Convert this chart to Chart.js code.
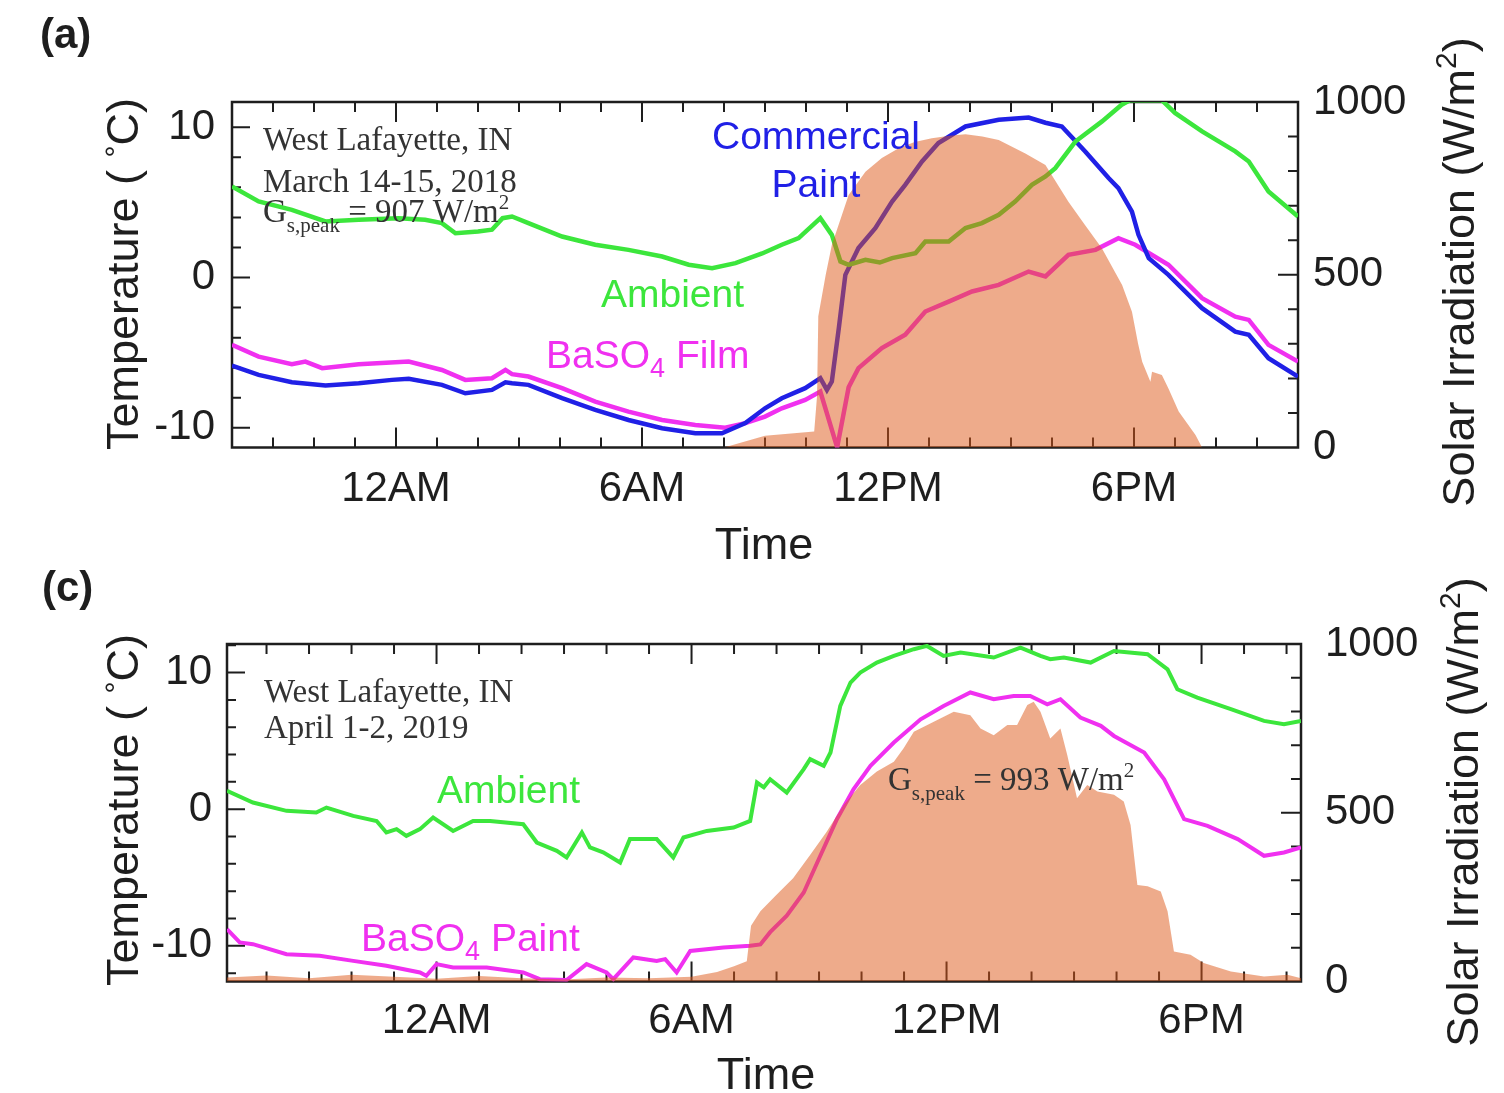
<!DOCTYPE html>
<html>
<head>
<meta charset="utf-8">
<script src="https://cdn.jsdelivr.net/npm/chart.js@4.4.1/dist/chart.umd.min.js"></script>
<style>
  html, body { margin: 0; padding: 0; background: #fff; }
  #wrap { position: relative; width: 1504px; height: 1093px; overflow: hidden; }
  canvas { position: absolute; left: 0; }
  #chartA { top: 0; }
  #chartC { top: 560px; }
</style>
</head>
<body>
<div id="wrap">
  <canvas id="chartA" width="1504" height="560"></canvas>
  <canvas id="chartC" width="1504" height="533"></canvas>
</div>
<script>
// ---- data: hours relative to midnight (negative = previous evening) ----
// tick labels
const timeTicks = [0, 6, 12, 18];
const timeTickLabels = ['12AM', '6AM', '12PM', '6PM'];
const tempTicks = [-10, 0, 10];
const solarTicks = [0, 500, 1000];

// (a) March 14-15, 2018
const hoursAmbientA = [-4, -3.35, -2.54, -1.72, -0.91, 0.06, 0.71, 1.12, 1.45, 2.0, 2.34, 2.6, 2.83, 3.23, 4.05, 4.86, 5.67, 6.49, 7.14, 7.71, 8.28, 8.93, 9.41, 9.82, 10.35, 10.63, 10.84, 11.04, 11.45, 11.8, 12.1, 12.67, 12.91, 13.48, 13.89, 14.29, 14.7, 15.1, 15.51, 15.84, 16.08, 16.57, 17.22, 17.7, 17.9, 18.68, 19.0, 19.66, 20.47, 20.8, 21.28, 22.0];
const ambientA = [6.06, 5.06, 4.5, 3.73, 3.84, 3.95, 3.84, 3.62, 2.95, 3.06, 3.18, 3.95, 4.06, 3.62, 2.73, 2.18, 1.84, 1.4, 0.85, 0.62, 0.96, 1.6, 2.18, 2.62, 3.95, 2.84, 1.07, 0.85, 1.18, 1.0, 1.29, 1.62, 2.4, 2.4, 3.29, 3.62, 4.17, 5.06, 6.17, 6.72, 7.28, 9.05, 10.39, 11.5, 11.8, 11.8, 10.95, 9.72, 8.39, 7.72, 5.73, 4.06];

const hoursPaintA = [-4, -3.35, -2.54, -1.72, -0.91, -0.1, 0.31, 1.12, 1.69, 2.34, 2.67, 2.83, 3.23, 4.05, 4.86, 5.67, 6.49, 7.3, 7.95, 8.52, 9.0, 9.41, 9.98, 10.35, 10.51, 10.63, 10.8, 10.96, 11.28, 11.69, 12.1, 12.42, 12.83, 13.23, 13.89, 14.7, 15.43, 15.84, 16.24, 16.81, 17.38, 17.62, 17.95, 18.11, 18.36, 18.84, 19.66, 20.47, 20.8, 21.28, 22.0];
const commercialPaintA = [-5.86, -6.48, -6.97, -7.19, -7.03, -6.81, -6.74, -7.14, -7.7, -7.48, -6.97, -7.03, -7.14, -8.03, -8.81, -9.48, -10.03, -10.36, -10.36, -9.69, -8.7, -8.03, -7.36, -6.7, -7.48, -6.92, -3.37, 0.18, 1.96, 3.29, 5.06, 6.17, 7.72, 8.95, 10.05, 10.5, 10.65, 10.3, 10.05, 8.39, 6.62, 5.95, 4.39, 2.84, 1.29, 0.18, -2.04, -3.6, -3.81, -5.37, -6.59];

const hoursFilmA = [-4, -3.35, -2.54, -2.21, -1.8, -0.91, 0.31, 1.12, 1.69, 2.34, 2.67, 2.83, 3.23, 4.05, 4.86, 5.67, 6.49, 7.3, 8.03, 8.52, 9.0, 9.41, 9.98, 10.35, 10.76, 11.04, 11.28, 11.85, 12.42, 12.91, 13.48, 14.05, 14.7, 15.43, 15.84, 16.4, 17.06, 17.62, 18.03, 18.84, 19.66, 20.47, 20.8, 21.28, 22.0];
const bariumFilmA = [-4.48, -5.26, -5.77, -5.59, -6.03, -5.77, -5.59, -6.15, -6.81, -6.7, -6.15, -6.43, -6.59, -7.36, -8.26, -8.92, -9.48, -9.81, -9.99, -9.69, -9.25, -8.7, -8.14, -7.59, -11.3, -7.3, -6.03, -4.7, -3.81, -2.26, -1.6, -0.93, -0.49, 0.4, 0.07, 1.51, 1.84, 2.62, 2.18, 0.85, -1.37, -2.6, -2.82, -4.48, -5.59];

const hoursSunA = [8.0, 9.0, 10.2, 10.27, 10.3, 10.48, 10.63, 11.04, 11.45, 11.85, 12.26, 12.65, 13.07, 13.5, 13.89, 14.3, 14.7, 15.35, 15.84, 16.4, 16.8, 17.22, 17.71, 17.95, 18.1, 18.2, 18.4, 18.44, 18.68, 18.84, 19.09, 19.5, 19.66];
const solarA = [0, 34, 46, 150, 380, 499, 586, 731, 798, 838, 866, 884, 895, 902, 907, 900, 890, 851, 818, 711, 645, 576, 470, 393, 300, 248, 190, 219, 210, 171, 104, 36, 0];

// (c) April 1-2, 2019
const hoursAmbientC = [-4.93, -4.32, -3.53, -2.83, -2.59, -1.96, -1.41, -1.18, -0.94, -0.71, -0.39, -0.08, 0.39, 0.86, 1.26, 2.04, 2.36, 2.83, 3.06, 3.42, 3.61, 3.92, 4.32, 4.55, 5.18, 5.57, 5.81, 6.36, 6.99, 7.38, 7.54, 7.7, 7.85, 8.24, 8.64, 8.79, 9.11, 9.27, 9.5, 9.74, 9.97, 10.36, 10.76, 11.23, 11.54, 11.93, 12.33, 13.11, 13.74, 14.21, 14.44, 14.76, 15.39, 15.94, 16.73, 17.2, 17.43, 17.9, 18.69, 19.47, 19.94, 20.34];
const ambientC = [1.34, 0.49, -0.12, -0.24, 0.12, -0.49, -0.86, -1.7, -1.46, -1.95, -1.46, -0.61, -1.59, -0.86, -0.86, -1.1, -2.44, -3.05, -3.53, -1.7, -2.8, -3.16, -3.9, -2.19, -2.19, -3.53, -2.07, -1.59, -1.34, -0.86, 1.95, 1.6, 2.19, 1.22, 2.93, 3.66, 3.17, 4.15, 7.56, 9.27, 10.0, 10.73, 11.22, 11.71, 11.95, 11.22, 11.46, 11.1, 11.83, 11.22, 10.98, 11.1, 10.73, 11.58, 11.34, 10.24, 8.78, 8.17, 7.32, 6.46, 6.22, 6.46];

const hoursPaintC = [-4.93, -4.63, -4.32, -3.53, -2.75, -1.96, -1.18, -0.39, -0.24, 0.0, 0.39, 1.18, 2.04, 2.43, 3.06, 3.53, 4.0, 4.16, 4.63, 5.18, 5.38, 5.65, 5.97, 6.75, 7.38, 7.62, 7.85, 8.24, 8.64, 9.03, 9.42, 9.81, 10.21, 10.76, 11.39, 11.93, 12.56, 13.11, 13.58, 13.97, 14.37, 14.68, 15.15, 15.63, 15.94, 16.65, 17.12, 17.59, 18.14, 18.85, 19.47, 19.94, 20.34];
const bariumPaintC = [-8.78, -9.75, -9.88, -10.61, -10.73, -11.1, -11.46, -11.95, -12.19, -11.34, -11.58, -11.58, -11.95, -12.44, -12.5, -11.34, -11.95, -12.44, -10.85, -11.1, -10.97, -11.95, -10.37, -10.12, -10.0, -9.9, -9.0, -7.8, -6.1, -3.41, -0.73, 1.46, 3.17, 4.88, 6.58, 7.56, 8.54, 8.05, 8.29, 8.29, 7.68, 8.05, 6.71, 6.1, 5.36, 4.15, 2.19, -0.73, -1.22, -2.19, -3.41, -3.17, -2.8];

const hoursSunC = [-4.93, -4, -3, -2, -1, 0, 1, 2, 3, 4, 5, 6, 6.6, 7.0, 7.3, 7.4, 7.62, 8.0, 8.39, 8.79, 9.18, 9.58, 9.97, 10.36, 10.76, 10.99, 11.23, 11.7, 12.17, 12.56, 12.8, 13.11, 13.43, 13.66, 13.9, 14.05, 14.21, 14.44, 14.68, 14.84, 15.07, 15.31, 15.55, 15.94, 16.17, 16.33, 16.49, 16.73, 17.04, 17.2, 17.35, 17.74, 18.05, 18.69, 19.47, 20.02, 20.34];
const solarC = [12, 18, 10, 20, 14, 8, 16, 10, 6, 12, 10, 14, 28, 45, 60, 165, 208, 257, 306, 375, 444, 523, 582, 622, 651, 691, 740, 770, 799, 789, 750, 730, 760, 760, 819, 829, 799, 720, 750, 671, 543, 582, 563, 553, 533, 464, 286, 282, 267, 208, 89, 79, 55, 30, 15, 20, 10];

// ---- styling ----
// the irradiation area is a translucent orange laid over the curves (salmon on white)
const GREEN = '#3ce63c', BLUE = '#2020e6', MAGENTA = '#f030f0', SUN = 'rgba(221, 87, 23, 0.5)', INK = '#1e1e1e';
const SANS = '"Liberation Sans", Arial, sans-serif';
const SERIF = '"Liberation Serif", "Times New Roman", serif';

function zip(xs, ys) {
  return xs.map((x, i) => ({ x: x, y: ys[i] }));
}

function lineSet(label, xs, ys, color, width) {
  return {
    label: label, data: zip(xs, ys), borderColor: color, borderWidth: width,
    pointRadius: 0, fill: false, tension: 0, yAxisID: 'y', order: 1, clip: 0
  };
}

function sunSet(xs, ys) {
  return {
    label: 'Solar Irradiation', data: zip(xs, ys), backgroundColor: SUN,
    borderColor: 'rgba(0,0,0,0)', borderWidth: 0, pointRadius: 0, fill: 'origin',
    tension: 0, yAxisID: 'y2', order: 0, clip: 0
  };
}

// draws a text made of runs (for sub/superscripts), optionally rotated -90deg
function drawRich(ctx, item) {
  const parts = item.parts.map(p => typeof p === 'string' ? { t: p } : p);
  let total = 0;
  parts.forEach(p => {
    ctx.font = p.font || item.font;
    p.w = ctx.measureText(p.t).width;
    total += p.w;
  });
  ctx.save();
  ctx.translate(item.x, item.y);
  if (item.rotate) ctx.rotate(-Math.PI / 2);
  ctx.fillStyle = item.color || INK;
  ctx.textBaseline = 'alphabetic';
  ctx.textAlign = 'left';
  let cx = item.align === 'center' ? -total / 2 : 0;
  parts.forEach(p => {
    ctx.font = p.font || item.font;
    ctx.fillText(p.t, cx, p.dy || 0);
    cx += p.w;
  });
  ctx.restore();
}

// frame with inward ticks on all four sides + annotation texts
const panelDecor = {
  id: 'panelDecor',
  beforeDatasetsDraw(chart) {
    const { ctx, chartArea: a, scales } = chart;
    const x = scales.x, yl = scales.y, yr = scales.y2;
    ctx.save();
    ctx.strokeStyle = INK;
    ctx.lineWidth = 2;
    ctx.beginPath();
    for (let h = Math.ceil(x.min); h <= x.max; h++) {
      const px = x.getPixelForValue(h);
      const len = h % 6 === 0 ? 20 : 10;
      ctx.moveTo(px, a.bottom); ctx.lineTo(px, a.bottom - len);
      ctx.moveTo(px, a.top); ctx.lineTo(px, a.top + len);
    }
    for (let t = Math.ceil(yl.min / 2) * 2; t <= yl.max; t += 2) {
      const py = yl.getPixelForValue(t);
      const len = t % 10 === 0 ? 18 : 9;
      ctx.moveTo(a.left, py); ctx.lineTo(a.left + len, py);
    }
    for (let g = 100; g < 1000; g += 100) {
      const py = yr.getPixelForValue(g);
      const len = g % 500 === 0 ? 20 : 10;
      ctx.moveTo(a.right, py); ctx.lineTo(a.right - len, py);
    }
    ctx.stroke();
    ctx.lineWidth = 2.5;
    ctx.strokeRect(a.left, a.top, a.right - a.left, a.bottom - a.top);
    ctx.restore();
  },
  afterDraw(chart, args, opts) {
    (opts.texts || []).forEach(item => drawRich(chart.ctx, item));
  }
};

function makePanel(id, p) {
  const tickFont = { family: SANS, size: 42 };
  return new Chart(document.getElementById(id), {
    type: 'line',
    data: { datasets: p.datasets },
    options: {
      responsive: false,
      animation: false,
      events: [],
      layout: { padding: { top: p.top, left: 0, right: 0, bottom: 0 } },
      plugins: {
        legend: { display: false },
        tooltip: { enabled: false },
        panelDecor: { texts: p.texts }
      },
      scales: {
        x: {
          type: 'linear', min: p.xMin, max: p.xMax,
          grid: { display: false, drawTicks: false }, border: { display: false },
          afterBuildTicks: s => { s.ticks = timeTicks.map(v => ({ value: v })); },
          ticks: {
            font: tickFont, color: INK, padding: p.xPad, maxRotation: 0, autoSkip: false,
            callback: v => timeTickLabels[timeTicks.indexOf(v)]
          },
          afterFit: s => { s.height = p.xHeight; }
        },
        y: {
          type: 'linear', axis: 'y', position: 'left', min: p.tMin, max: p.tMax,
          grid: { display: false, drawTicks: false }, border: { display: false },
          afterBuildTicks: s => { s.ticks = tempTicks.map(v => ({ value: v })); },
          ticks: { font: tickFont, color: INK, padding: p.lPad, callback: v => String(v) },
          afterFit: s => { s.width = p.leftW; }
        },
        y2: {
          type: 'linear', axis: 'y', position: 'right', min: 0, max: 1000,
          grid: { display: false, drawTicks: false }, border: { display: false },
          afterBuildTicks: s => { s.ticks = solarTicks.map(v => ({ value: v })); },
          ticks: { font: tickFont, color: INK, padding: p.rPad, callback: v => String(v) },
          afterFit: s => { s.width = p.rightW; }
        }
      }
    },
    plugins: [panelDecor]
  });
}

const titleFont = '45px ' + SANS;
const labelFont = '39px ' + SANS;
const noteFont = '33px ' + SERIF;
const subFont = '21px ' + SERIF;
const degree = { t: '°', font: '30px ' + SANS, dy: -12 };
const squared = { t: '2', font: '30px ' + SANS, dy: -18 };

makePanel('chartA', {
  top: 102, xHeight: 112.5, leftW: 232, rightW: 206,
  xMin: -4, xMax: 22, tMin: -11.31, tMax: 11.68,
  xPad: 17, lPad: 17, rPad: 15,
  datasets: [
    lineSet('Ambient', hoursAmbientA, ambientA, GREEN, 4.5),
    lineSet('Commercial Paint', hoursPaintA, commercialPaintA, BLUE, 4.5),
    lineSet('BaSO4 Film', hoursFilmA, bariumFilmA, MAGENTA, 4.5),
    sunSet(hoursSunA, solarA)
  ],
  texts: [
    { x: 40, y: 48, font: 'bold 42px ' + SANS, parts: ['(a)'] },
    { x: 263, y: 150, font: noteFont, color: '#333', parts: ['West Lafayette, IN'] },
    { x: 263, y: 191.5, font: noteFont, color: '#333', parts: ['March 14-15, 2018'] },
    { x: 263, y: 222, font: noteFont, color: '#333',
      parts: ['G', { t: 's,peak', font: subFont, dy: 10 }, ' = 907 W/m', { t: '2', font: subFont, dy: -13 }] },
    { x: 816, y: 149, align: 'center', font: labelFont, color: BLUE, parts: ['Commercial'] },
    { x: 816, y: 197, align: 'center', font: labelFont, color: BLUE, parts: ['Paint'] },
    { x: 601, y: 306.5, font: labelFont, color: GREEN, parts: ['Ambient'] },
    { x: 546, y: 368, font: labelFont, color: MAGENTA,
      parts: ['BaSO', { t: '4', font: '27px ' + SANS, dy: 9 }, ' Film'] },
    { x: 138, y: 274, rotate: true, align: 'center', font: titleFont,
      parts: ['Temperature ( ', degree, 'C)'] },
    { x: 764, y: 559, align: 'center', font: titleFont, parts: ['Time'] },
    { x: 1474, y: 272, rotate: true, align: 'center', font: titleFont,
      parts: ['Solar Irradiation (W/m', squared, ')'] }
  ]
});

makePanel('chartC', {
  top: 84, xHeight: 111.5, leftW: 227, rightW: 203,
  xMin: -4.93, xMax: 20.34, tMin: -12.61, tMax: 12.09,
  xPad: 15, lPad: 15, rPad: 24,
  datasets: [
    lineSet('Ambient', hoursAmbientC, ambientC, GREEN, 4),
    lineSet('BaSO4 Paint', hoursPaintC, bariumPaintC, MAGENTA, 4),
    sunSet(hoursSunC, solarC)
  ],
  texts: [
    { x: 42, y: 41, font: 'bold 42px ' + SANS, parts: ['(c)'] },
    { x: 264, y: 142, font: noteFont, color: '#333', parts: ['West Lafayette, IN'] },
    { x: 264, y: 177.5, font: noteFont, color: '#333', parts: ['April 1-2, 2019'] },
    { x: 437, y: 243, font: labelFont, color: GREEN, parts: ['Ambient'] },
    { x: 361, y: 391, font: labelFont, color: MAGENTA,
      parts: ['BaSO', { t: '4', font: '27px ' + SANS, dy: 9 }, ' Paint'] },
    { x: 888, y: 229.7, font: noteFont, color: '#333',
      parts: ['G', { t: 's,peak', font: subFont, dy: 10 }, ' = 993 W/m', { t: '2', font: subFont, dy: -13 }] },
    { x: 138, y: 250, rotate: true, align: 'center', font: titleFont,
      parts: ['Temperature ( ', degree, 'C)'] },
    { x: 766, y: 529, align: 'center', font: titleFont, parts: ['Time'] },
    { x: 1478, y: 252, rotate: true, align: 'center', font: titleFont,
      parts: ['Solar Irradiation (W/m', squared, ')'] }
  ]
});
</script>
</body>
</html>
